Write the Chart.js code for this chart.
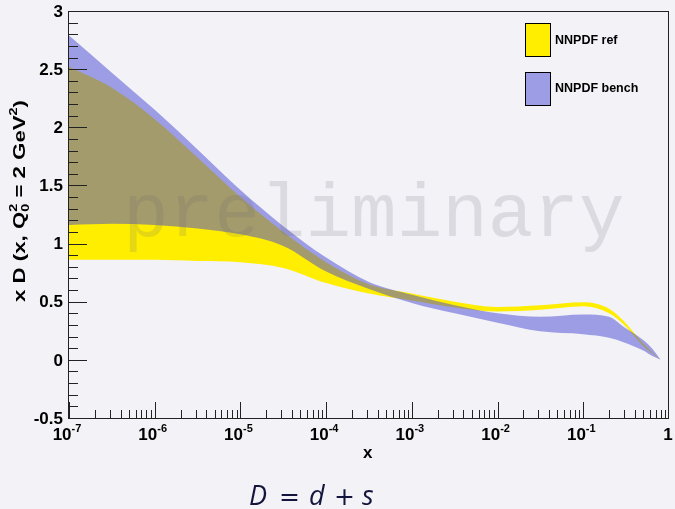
<!DOCTYPE html>
<html>
<head>
<meta charset="utf-8">
<script src="https://cdn.jsdelivr.net/npm/chart.js@4"></script>
<style>
  html, body { margin: 0; padding: 0; background: #f2f2f7; }
  canvas { display: block; }
</style>
</head>
<body>
<canvas id="pdfChart" width="675" height="509"></canvas>
<script>
// x D(x, Q0^2 = 2 GeV^2) bands
const xPoints    = [1e-7, 3.16e-7, 1e-6, 3.16e-6, 1e-5, 3.16e-5, 1e-4, 3.16e-4, 1e-3, 3.16e-3, 1e-2, 3.16e-2, 0.1, 0.2, 0.3, 0.5, 0.65, 0.8];
const refUpper   = [2.52, 2.34, 2.07, 1.74, 1.40, 1.10, 0.84, 0.65, 0.57, 0.50, 0.455, 0.47, 0.495, 0.44, 0.33, 0.14, 0.06, 0.0];
const refLower   = [0.86, 0.86, 0.86, 0.85, 0.84, 0.79, 0.66, 0.57, 0.51, 0.45, 0.415, 0.43, 0.46, 0.40, 0.30, 0.12, 0.05, 0.0];
const benchUpper = [2.79, 2.47, 2.15, 1.81, 1.46, 1.15, 0.88, 0.67, 0.56, 0.47, 0.40, 0.37, 0.39, 0.37, 0.28, 0.17, 0.09, 0.0];
const benchLower = [1.16, 1.17, 1.16, 1.13, 1.08, 0.98, 0.76, 0.61, 0.49, 0.40, 0.32, 0.245, 0.22, 0.19, 0.15, 0.08, 0.03, 0.0];

const seriesNames = ['NNPDF ref', 'NNPDF bench'];
const xTickValues = [1e-7, 1e-6, 1e-5, 1e-4, 1e-3, 1e-2, 1e-1, 1];
const xTickExps   = ['-7', '-6', '-5', '-4', '-3', '-2', '-1', ''];
const yTickValues = [3, 2.5, 2, 1.5, 1, 0.5, 0, -0.5];
const yTickLabels = ['3', '2.5', '2', '1.5', '1', '0.5', '0', '-0.5'];

const YELLOW = '#ffee00';
const BLUE_FILL = 'rgba(72, 72, 214, 0.5)';
const canvas = document.getElementById('pdfChart');
const ctx = canvas.getContext('2d');

const pts = arr => arr.map((v, i) => ({ x: xPoints[i], y: v }));
const band = { borderWidth: 0, pointRadius: 0, cubicInterpolationMode: 'monotone' };

const FONT = '"Liberation Sans", Arial, sans-serif';

const decor = {
  id: 'decor',
  afterDraw(chart) {
    const c = chart.ctx, xs = chart.scales.x, ys = chart.scales.y, a = chart.chartArea;

    // watermark
    c.save();
    c.font = '76px "Liberation Mono"';
    c.fillStyle = 'rgba(100,100,110,0.17)';
    c.textBaseline = 'alphabetic';
    c.fillText('preliminary', 123, 236);
    c.restore();

    // frame + ticks
    c.save();
    c.strokeStyle = '#222';
    c.lineWidth = 1;
    c.strokeRect(a.left - 0.5, a.top + 0.5, a.right - a.left, a.bottom - a.top);
    c.beginPath();
    for (let e = -7; e < 0; e++) {
      const px = Math.round(xs.getPixelForValue(Math.pow(10, e))) + 0.5;
      c.moveTo(px, a.bottom); c.lineTo(px, a.bottom - 16);
      for (let k = 2; k <= 9; k++) {
        const mx = Math.round(xs.getPixelForValue(k * Math.pow(10, e))) + 0.5;
        c.moveTo(mx, a.bottom); c.lineTo(mx, a.bottom - 8);
      }
    }
    for (let i = -5; i <= 30; i++) {
      const py = Math.round(ys.getPixelForValue(i / 10)) + 0.5;
      const len = i % 5 === 0 ? 18 : 9;
      c.moveTo(a.left, py); c.lineTo(a.left + len, py);
    }
    c.stroke();
    c.restore();

    // tick labels
    c.save();
    c.fillStyle = '#000';
    c.font = 'bold 17px ' + FONT;
    c.textAlign = 'right';
    c.textBaseline = 'middle';
    yTickValues.forEach((v, i) => c.fillText(yTickLabels[i], 63, ys.getPixelForValue(v) + 1));
    c.textAlign = 'left';
    c.textBaseline = 'alphabetic';
    xTickValues.forEach((v, i) => {
      const px = xs.getPixelForValue(v);
      const exp = xTickExps[i];
      c.font = 'bold 17px ' + FONT;
      if (!exp) {
        const w = c.measureText('1').width;
        c.fillText('1', px - w / 2 - 1, 440);
        return;
      }
      const w1 = c.measureText('10').width;
      c.font = 'bold 11px ' + FONT;
      const w2 = c.measureText(exp).width;
      const x0 = px - (w1 + w2) / 2 - 2;
      c.font = 'bold 17px ' + FONT;
      c.fillText('10', x0, 440);
      c.font = 'bold 11px ' + FONT;
      c.fillText(exp, x0 + w1, 432);
    });

    // axis titles
    c.font = 'bold 17px ' + FONT;
    c.fillText('x', 363, 458);

    // y title: x D (x, Q_0^2 = 2 GeV^2), stretched along its length like the original
    const big = 'bold 17px ' + FONT, small = 'bold 11px ' + FONT;
    const chunks = [
      ['x D (x, Q', big, 0], ['2', small, -8], ['0', small, 4, true],
      [' = 2 GeV', big, 0], ['2', small, -8], [')', big, 0]
    ];
    let total = 0;
    const widths = chunks.map(ch => { c.font = ch[1]; const w = c.measureText(ch[0]).width; if (!ch[3]) total += w; return w; });
    c.translate(25, 302);
    c.rotate(-Math.PI / 2);
    c.scale(202 / total, 1);
    let t = 0, prev = 0;
    chunks.forEach((ch, i) => {
      c.font = ch[1];
      if (ch[3]) { c.fillText(ch[0], prev, ch[2]); return; }
      c.fillText(ch[0], t, ch[2]);
      prev = t;
      t += widths[i];
    });
    c.restore();

    // legend
    c.save();
    c.lineWidth = 1;
    c.strokeStyle = '#000';
    c.fillStyle = YELLOW;
    c.fillRect(525.5, 23.5, 25, 33);
    c.strokeRect(525.5, 23.5, 25, 33);
    c.fillStyle = BLUE_FILL;
    c.fillRect(525.5, 72.5, 25, 33);
    c.strokeRect(525.5, 72.5, 25, 33);
    c.fillStyle = '#000';
    c.font = 'bold 12.5px ' + FONT;
    c.textBaseline = 'middle';
    c.fillText(seriesNames[0], 555, 41);
    c.fillText(seriesNames[1], 555, 89);
    c.restore();

    // slide formula
    c.save();
    c.fillStyle = '#14143c';
    c.textBaseline = 'alphabetic';
    c.font = 'italic 27px "Open Sans"';
    c.fillText('D', 249, 505);
    c.fillText('d', 309, 505);
    c.fillText('s', 362, 505);
    c.font = '25px "DejaVu Sans"';
    c.fillText('=', 279, 505);
    c.fillText('+', 334, 505);
    c.restore();
  }
};

new Chart(ctx, {
  type: 'line',
  data: {
    datasets: [
      { ...band, label: seriesNames[1], data: pts(benchUpper), fill: 1, backgroundColor: BLUE_FILL },
      { ...band, label: seriesNames[1] + ' low', data: pts(benchLower), fill: false },
      { ...band, label: seriesNames[0], data: pts(refUpper), fill: 3, backgroundColor: YELLOW },
      { ...band, label: seriesNames[0] + ' low', data: pts(refLower), fill: false }
    ]
  },
  options: {
    responsive: false,
    animation: false,
    layout: { padding: { left: 69, right: 6, top: 11, bottom: 91 } },
    scales: {
      x: { type: 'logarithmic', min: 1e-7, max: 1, display: false },
      y: { type: 'linear', min: -0.5, max: 3, display: false }
    },
    plugins: {
      legend: { display: false },
      tooltip: { enabled: false }
    }
  },
  plugins: [decor]
});
</script>
</body>
</html>
